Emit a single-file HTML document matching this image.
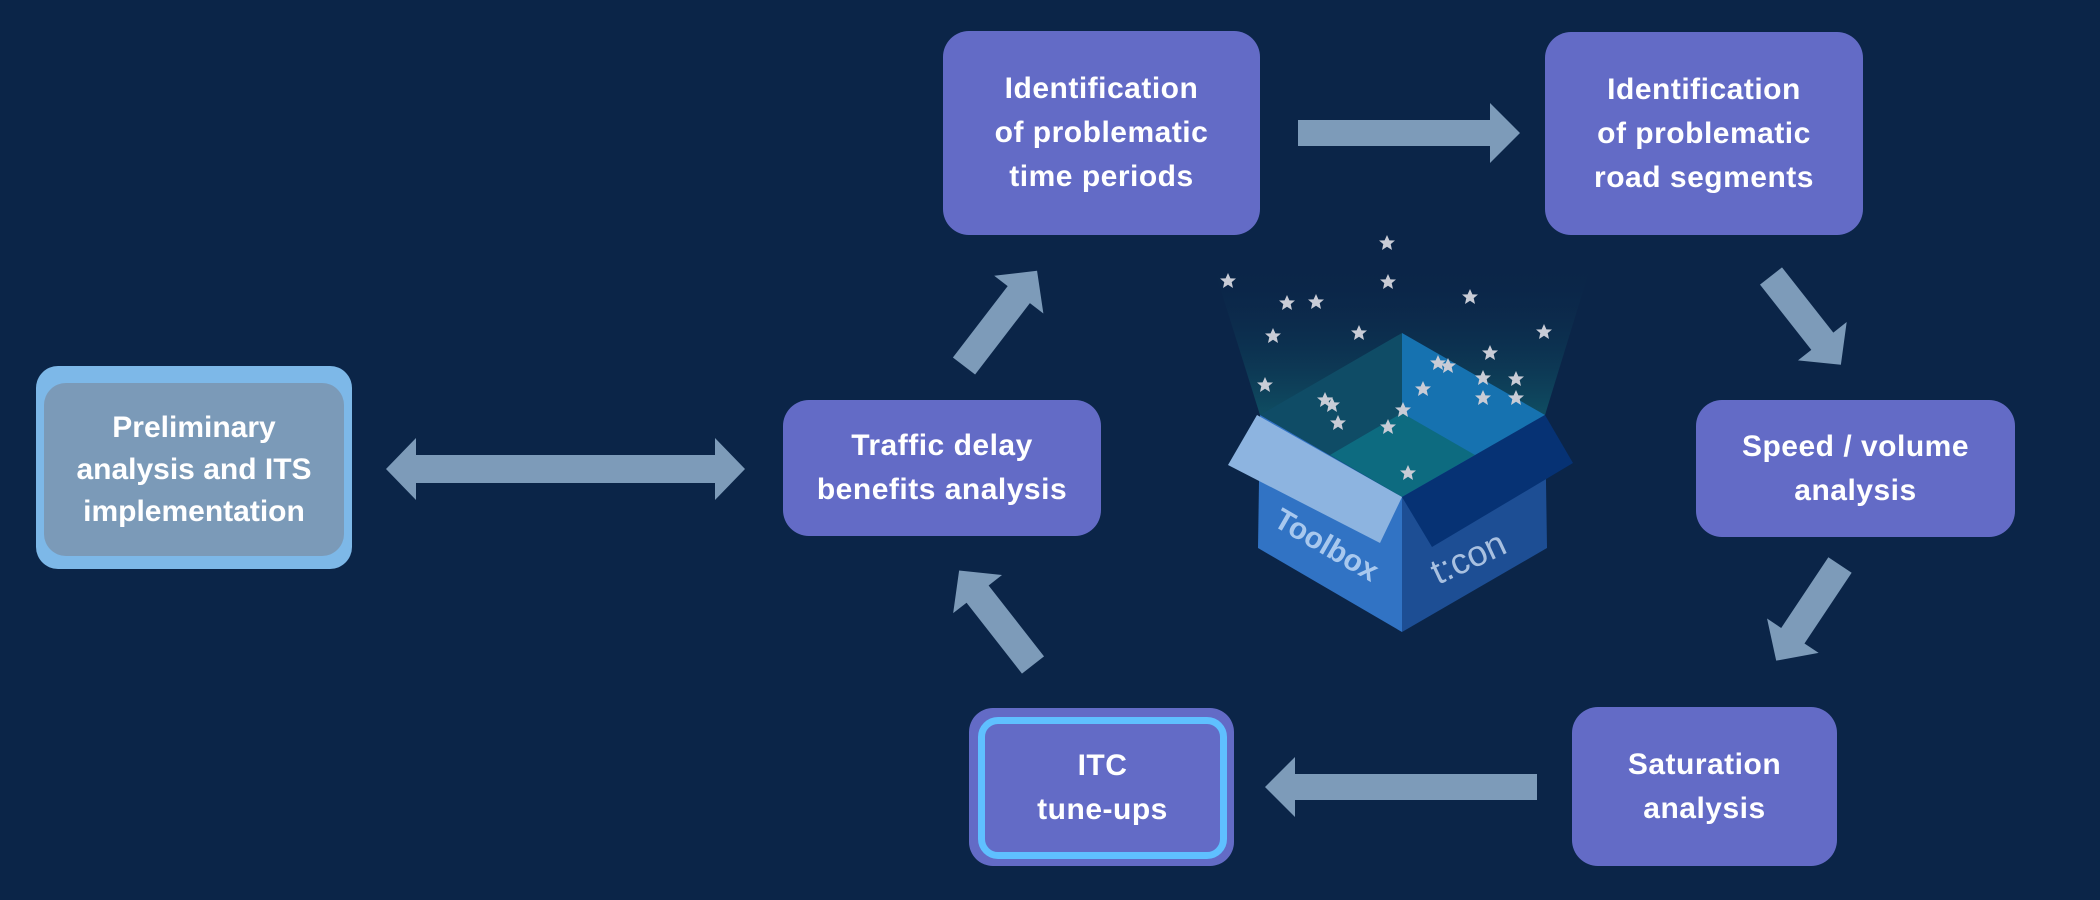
<!DOCTYPE html>
<html><head><meta charset="utf-8"><style>
html,body{margin:0;padding:0;background:#0b2548;}
body{width:2100px;height:900px;position:relative;overflow:hidden;font-family:"Liberation Sans",sans-serif;}
.b{position:absolute;background:#636bc6;border-radius:26px;color:#fff;font-weight:bold;font-size:30px;line-height:44px;display:flex;align-items:center;justify-content:center;text-align:center;letter-spacing:0.5px;}
svg{position:absolute;left:0;top:0;}
</style></head><body>
<svg width="2100" height="900" viewBox="0 0 2100 900">
<defs>
<linearGradient id="beam" x1="0" y1="0" x2="0" y2="1">
<stop offset="0" stop-color="#0b2548" stop-opacity="0"/>
<stop offset="1" stop-color="#0f4d62"/>
</linearGradient>
<g id="star"><polygon points="0,-8 2.4,-2.6 8,-2.5 3.7,1.1 5,7 0,3.8 -5,7 -3.7,1.1 -8,-2.5 -2.4,-2.6" fill="#c9ccd6"/></g>
</defs>
<!-- beam -->
<polygon points="1212,262 1592,262 1545,415 1260,415" fill="url(#beam)"/>
<!-- interior -->
<polygon points="1260,415 1402,333 1402,497" fill="#0f4c66"/>
<polygon points="1402,333 1545,415 1402,497" fill="#1672b0"/>
<polygon points="1330,455 1402,413 1475,455 1402,497" fill="#0d6b80"/>
<!-- faces -->
<polygon points="1260,415 1402,497 1402,632 1258,548" fill="#3173c4"/>
<polygon points="1402,497 1545,415 1547,548 1402,632" fill="#1d4e94"/>
<polygon points="1257,415 1228,465 1380,543 1402,497" fill="#8db4e0"/>
<polygon points="1545,415 1573,463 1432,547 1402,497" fill="#063274"/>
<text x="1272" y="525" transform="rotate(30 1272 525)" font-family="Liberation Sans,sans-serif" font-weight="bold" font-size="30" fill="#a8c8ee">Toolbox</text>
<text x="1438" y="585" transform="rotate(-25 1438 585)" font-family="Liberation Sans,sans-serif" font-size="36" fill="#a8c0e0">t:con</text>
<!-- stars -->
<g>
<use href="#star" x="1387" y="243"/><use href="#star" x="1228" y="281"/><use href="#star" x="1388" y="282"/>
<use href="#star" x="1287" y="303"/><use href="#star" x="1316" y="302"/><use href="#star" x="1470" y="297"/>
<use href="#star" x="1273" y="336"/><use href="#star" x="1359" y="333"/><use href="#star" x="1544" y="332"/>
<use href="#star" x="1490" y="353"/><use href="#star" x="1265" y="385"/><use href="#star" x="1438" y="363"/>
<use href="#star" x="1448" y="366"/><use href="#star" x="1483" y="378"/><use href="#star" x="1516" y="379"/>
<use href="#star" x="1423" y="389"/><use href="#star" x="1325" y="400"/><use href="#star" x="1332" y="405"/>
<use href="#star" x="1403" y="410"/><use href="#star" x="1483" y="398"/><use href="#star" x="1516" y="398"/>
<use href="#star" x="1338" y="423"/><use href="#star" x="1388" y="427"/><use href="#star" x="1408" y="473"/>
</g>
<!-- arrows -->
<g fill="#7d9bb9">
<polygon points="386,469 416,438 416,455 715,455 715,438 745,469 715,500 715,483 416,483 416,500"/>
<g transform="translate(1298,133)"><polygon points="0,-13 192,-13 192,-30 222,0 192,30 192,13 0,13"/></g>
<g transform="translate(1537,787) rotate(180)"><polygon points="0,-13 242,-13 242,-30 272,0 242,30 242,13 0,13"/></g>
<g transform="translate(1771,276) rotate(51.8)"><polygon points="0,-14 83,-14 83,-31 113,0 83,31 83,14 0,14"/></g>
<g transform="translate(1840,565) rotate(123.7)"><polygon points="0,-14 85,-14 85,-31 115,0 85,31 85,14 0,14"/></g>
<g transform="translate(1033,665) rotate(232)"><polygon points="0,-14 90,-14 90,-31 120,0 90,31 90,14 0,14"/></g>
<g transform="translate(964,366) rotate(-52.5)"><polygon points="0,-14 90,-14 90,-31 120,0 90,31 90,14 0,14"/></g>
</g>
</svg>

<div class="b" style="left:36px;top:366px;width:316px;height:203px;background:#7db8e8;border-radius:22px;"></div>
<div class="b" style="left:44px;top:383px;width:300px;height:173px;background:#7b9ab8;border-radius:22px;font-family:'Liberation Sans',sans-serif;font-size:30px;line-height:42px;letter-spacing:0;">Preliminary<br>analysis and ITS<br>implementation</div>

<div class="b" style="left:943px;top:31px;width:317px;height:204px;">Identification<br>of problematic<br>time periods</div>
<div class="b" style="left:1545px;top:32px;width:318px;height:203px;">Identification<br>of problematic<br>road segments</div>
<div class="b" style="left:1696px;top:400px;width:319px;height:137px;">Speed / volume<br>analysis</div>
<div class="b" style="left:1572px;top:707px;width:265px;height:159px;">Saturation<br>analysis</div>
<div class="b" style="left:783px;top:400px;width:318px;height:136px;">Traffic delay<br>benefits analysis</div>
<div class="b" style="left:969px;top:708px;width:265px;height:158px;border-radius:24px;"></div>
<div class="b" style="left:978px;top:717px;width:235px;height:128px;border:7px solid #5fc0ff;border-radius:20px;">ITC<br>tune-ups</div>
</body></html>
